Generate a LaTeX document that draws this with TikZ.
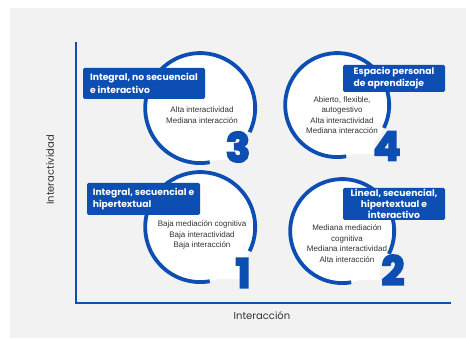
\documentclass[tikz,border=0pt]{standalone}
\usepackage{fontspec}
\setmainfont{Liberation Sans}
\newfontfamily\popfont{Poppins}
\newfontfamily\cifrafont{Poppins}[BoldFeatures={FakeBold=5}]
\usetikzlibrary{positioning}
\definecolor{azul}{RGB}{12,78,178}
\definecolor{fondo}{RGB}{242,242,242}
\tikzset{
    disco/.style={
           circle,
           fill=white,
           minimum size=#1,
           inner sep=0pt},
    anillo/.style={
           draw=azul,
           line width=3.8pt},
    etiqueta/.style={
           rectangle, rounded corners=1.5pt,
           fill=azul, text=white,
           font=\popfont\bfseries\fontsize{9.2}{12}\selectfont,
           inner sep=0pt},
    texto/.style={
           align=center, text=black!80,
           font=\fontsize{8}{10.5}\selectfont},
    cifra/.style={
           text=azul, inner sep=0pt,
           font=\cifrafont\bfseries\fontsize{40}{40}\selectfont},
    eje/.style={
           draw=azul,
           line width=1.5pt},
    rotulo/.style={
           text=black!80,
           font=\popfont\fontsize{10}{12}\selectfont}
}

\begin{document}
\begin{tikzpicture}[x=1pt, y=1pt]
        \useasboundingbox (0,0) rectangle (466,339);
        \fill[fondo] (10,1) rectangle (466,331);
        % ejes
        \coordinate (O) at (76,36);
        \coordinate (Y) at (76,297);
        \coordinate (X) at (451,36);
        \draw[eje] (Y) -- (O) -- (X);
        \node[rotulo] (ejeX) at (262,23) {Interacción};
        \node[rotulo, rotate=90] (ejeY) at (50,169) {Interactividad};
        % cuadrante 1
        \node[disco=110pt] (c1) at (200,112) {};
        \fill[white] (c1.center) rectangle ++(40,-52);
        \draw[anillo] (c1.-26) arc[start angle=-26, end angle=280, radius=55];
        \node[etiqueta, minimum width=113pt, minimum height=32pt, align=left] (e1) at (143.5,140) {Integral, secuencial e\\hipertextual};
        \node[texto] (t1) at (202,104) {Baja mediación cognitiva\\Baja interactividad\\Baja interacción};
        \node[cifra] (n1) at (243,66) {1};
        % cuadrante 2
        \node[disco=104pt] (c2) at (342,108) {};
        \fill[white] (c2.center) rectangle ++(38,-49);
        \draw[anillo] (c2.-26) arc[start angle=-26, end angle=280, radius=52];
        \node[etiqueta, minimum width=102pt, minimum height=32pt, align=center, font=\popfont\bfseries\fontsize{9.2}{10.8}\selectfont] (e2) at (394,135) {Lineal, secuencial,\\hipertextual e\\interactivo};
        \node[texto] (t2) at (347,95.5) {Mediana mediación\\cognitiva\\Mediana interactividad\\Alta interacción};
        \node[cifra] (n2) at (393,69) {2};
        % cuadrante 3
        \node[disco=110pt] (c3) at (200,231) {};
        \fill[white] (c3.center) rectangle ++(40,-52);
        \draw[anillo] (c3.-26) arc[start angle=-26, end angle=280, radius=55];
        \node[etiqueta, minimum width=122pt, minimum height=31pt, align=left, font=\popfont\bfseries\fontsize{9.2}{13}\selectfont] (e3) at (144,255.5) {Integral, no secuencial\\e interactivo};
        \node[texto] (t3) at (202,224) {Alta interactividad\\Mediana interacción};
        \node[cifra] (n3) at (238,192) {3};
        % cuadrante 4
        \node[disco=104pt] (c4) at (337,234) {};
        \fill[white] (c4.center) rectangle ++(38,-49);
        \draw[anillo] (c4.-26) arc[start angle=-26, end angle=280, radius=52];
        \node[etiqueta, minimum width=102pt, minimum height=27pt, align=left] (e4) at (394,260.5) {Espacio personal\\de aprendizaje};
        \node[texto] (t4) at (342,224) {Abierto, flexible,\\autogestivo\\Alta interactividad\\Mediana interacción};
        \node[cifra] (n4) at (387,193) {4};
\end{tikzpicture}
\end{document}
